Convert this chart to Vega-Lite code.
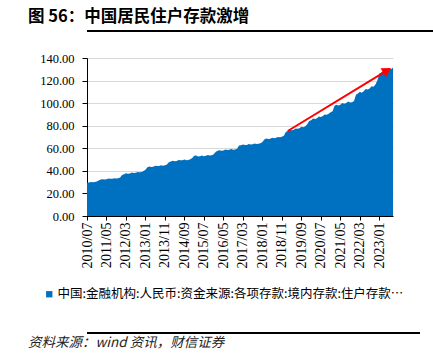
{
  "$schema": "https://vega.github.io/schema/vega-lite/v6.json",
  "background": "white",
  "padding": {"left": 18, "top": 8, "right": 0, "bottom": 0},
  "title": {"text": "图 56：中国居民住户存款激增", "anchor": "start", "frame": "bounds", "dx": 10, "offset": 5, "font": "Noto Sans CJK SC", "fontSize": 16.5, "fontWeight": "bold", "color": "#000"},
  "align": "none",
  "spacing": 6,
  "resolve": {"scale": {"color": "independent"}, "legend": {"color": "independent"}},
  "config": {
    "view": {"stroke": null}
  },
  "datasets": {
    "deposits": [
      {"d": "2010/07", "v": 29.4}, {"d": "2010/08", "v": 29.7}, {"d": "2010/09", "v": 30.1}, {"d": "2010/10", "v": 29.9}, {"d": "2010/11", "v": 30.1}, {"d": "2010/12", "v": 30.6},
      {"d": "2011/01", "v": 31.5}, {"d": "2011/02", "v": 32.3}, {"d": "2011/03", "v": 32.6}, {"d": "2011/04", "v": 32.3}, {"d": "2011/05", "v": 32.5}, {"d": "2011/06", "v": 33.2}, {"d": "2011/07", "v": 33.0}, {"d": "2011/08", "v": 33.1}, {"d": "2011/09", "v": 33.5}, {"d": "2011/10", "v": 33.2}, {"d": "2011/11", "v": 33.5}, {"d": "2011/12", "v": 34.2},
      {"d": "2012/01", "v": 36.4}, {"d": "2012/02", "v": 37.0}, {"d": "2012/03", "v": 37.8}, {"d": "2012/04", "v": 37.4}, {"d": "2012/05", "v": 37.6}, {"d": "2012/06", "v": 38.5}, {"d": "2012/07", "v": 38.2}, {"d": "2012/08", "v": 38.4}, {"d": "2012/09", "v": 39.0}, {"d": "2012/10", "v": 38.7}, {"d": "2012/11", "v": 39.0}, {"d": "2012/12", "v": 39.8},
      {"d": "2013/01", "v": 41.0}, {"d": "2013/02", "v": 43.2}, {"d": "2013/03", "v": 43.9}, {"d": "2013/04", "v": 43.5}, {"d": "2013/05", "v": 43.7}, {"d": "2013/06", "v": 44.6}, {"d": "2013/07", "v": 44.2}, {"d": "2013/08", "v": 44.4}, {"d": "2013/09", "v": 45.0}, {"d": "2013/10", "v": 44.6}, {"d": "2013/11", "v": 44.9}, {"d": "2013/12", "v": 45.6},
      {"d": "2014/01", "v": 47.6}, {"d": "2014/02", "v": 48.3}, {"d": "2014/03", "v": 49.0}, {"d": "2014/04", "v": 48.6}, {"d": "2014/05", "v": 48.7}, {"d": "2014/06", "v": 49.6}, {"d": "2014/07", "v": 49.3}, {"d": "2014/08", "v": 49.4}, {"d": "2014/09", "v": 50.0}, {"d": "2014/10", "v": 49.5}, {"d": "2014/11", "v": 49.7}, {"d": "2014/12", "v": 50.3},
      {"d": "2015/01", "v": 51.5}, {"d": "2015/02", "v": 53.3}, {"d": "2015/03", "v": 53.6}, {"d": "2015/04", "v": 52.7}, {"d": "2015/05", "v": 52.9}, {"d": "2015/06", "v": 53.6}, {"d": "2015/07", "v": 53.0}, {"d": "2015/08", "v": 53.3}, {"d": "2015/09", "v": 54.0}, {"d": "2015/10", "v": 53.5}, {"d": "2015/11", "v": 53.9}, {"d": "2015/12", "v": 54.8},
      {"d": "2016/01", "v": 56.8}, {"d": "2016/02", "v": 57.8}, {"d": "2016/03", "v": 58.3}, {"d": "2016/04", "v": 57.9}, {"d": "2016/05", "v": 58.1}, {"d": "2016/06", "v": 58.9}, {"d": "2016/07", "v": 58.5}, {"d": "2016/08", "v": 58.7}, {"d": "2016/09", "v": 59.3}, {"d": "2016/10", "v": 58.8}, {"d": "2016/11", "v": 58.9}, {"d": "2016/12", "v": 59.5},
      {"d": "2017/01", "v": 62.4}, {"d": "2017/02", "v": 62.8}, {"d": "2017/03", "v": 63.4}, {"d": "2017/04", "v": 62.9}, {"d": "2017/05", "v": 63.0}, {"d": "2017/06", "v": 63.8}, {"d": "2017/07", "v": 63.3}, {"d": "2017/08", "v": 63.5}, {"d": "2017/09", "v": 64.2}, {"d": "2017/10", "v": 63.7}, {"d": "2017/11", "v": 64.0}, {"d": "2017/12", "v": 64.5},
      {"d": "2018/01", "v": 65.6}, {"d": "2018/02", "v": 67.8}, {"d": "2018/03", "v": 68.6}, {"d": "2018/04", "v": 68.2}, {"d": "2018/05", "v": 68.4}, {"d": "2018/06", "v": 69.4}, {"d": "2018/07", "v": 69.0}, {"d": "2018/08", "v": 69.3}, {"d": "2018/09", "v": 70.1}, {"d": "2018/10", "v": 69.8}, {"d": "2018/11", "v": 70.2}, {"d": "2018/12", "v": 71.2},
      {"d": "2019/01", "v": 74.4}, {"d": "2019/02", "v": 75.3}, {"d": "2019/03", "v": 76.4}, {"d": "2019/04", "v": 75.9}, {"d": "2019/05", "v": 76.2}, {"d": "2019/06", "v": 77.5}, {"d": "2019/07", "v": 77.3}, {"d": "2019/08", "v": 77.8}, {"d": "2019/09", "v": 79.0}, {"d": "2019/10", "v": 78.7}, {"d": "2019/11", "v": 79.5}, {"d": "2019/12", "v": 81.3},
      {"d": "2020/01", "v": 84.1}, {"d": "2020/02", "v": 84.8}, {"d": "2020/03", "v": 86.3}, {"d": "2020/04", "v": 85.9}, {"d": "2020/05", "v": 86.6}, {"d": "2020/06", "v": 88.1}, {"d": "2020/07", "v": 87.7}, {"d": "2020/08", "v": 88.5}, {"d": "2020/09", "v": 90.0}, {"d": "2020/10", "v": 89.7}, {"d": "2020/11", "v": 90.6}, {"d": "2020/12", "v": 92.0},
      {"d": "2021/01", "v": 92.8}, {"d": "2021/02", "v": 97.6}, {"d": "2021/03", "v": 98.6}, {"d": "2021/04", "v": 97.9}, {"d": "2021/05", "v": 98.6}, {"d": "2021/06", "v": 100.2}, {"d": "2021/07", "v": 99.5}, {"d": "2021/08", "v": 100.1}, {"d": "2021/09", "v": 101.5}, {"d": "2021/10", "v": 100.5}, {"d": "2021/11", "v": 100.8}, {"d": "2021/12", "v": 101.8},
      {"d": "2022/01", "v": 107.5}, {"d": "2022/02", "v": 108.5}, {"d": "2022/03", "v": 110.0}, {"d": "2022/04", "v": 109.3}, {"d": "2022/05", "v": 110.5}, {"d": "2022/06", "v": 112.5}, {"d": "2022/07", "v": 112.0}, {"d": "2022/08", "v": 113.0}, {"d": "2022/09", "v": 115.0}, {"d": "2022/10", "v": 114.5}, {"d": "2022/11", "v": 116.5}, {"d": "2022/12", "v": 120.3},
      {"d": "2023/01", "v": 126.2}, {"d": "2023/02", "v": 127.1}, {"d": "2023/03", "v": 128.6}, {"d": "2023/04", "v": 127.8}, {"d": "2023/05", "v": 128.6}, {"d": "2023/06", "v": 130.4}, {"d": "2023/07", "v": 130.0}, {"d": "2023/08", "v": 131.6}
    ],
    "arrowLine": [
      {"d": "2019/02", "v": 75.3},
      {"d": "2023/05", "v": 129.0}
    ],
    "arrowHead": [
      {"d": "2023/05", "v": 129.0}
    ]
  },
  "vconcat": [
    {
      "align": "none",
      "spacing": 20,
      "resolve": {"scale": {"color": "independent"}, "legend": {"color": "independent"}},
      "vconcat": [
        {
          "width": 402,
          "height": 2,
          "view": {"fill": "#000", "stroke": null},
          "layer": [
            {
              "data": {"values": [{"line": "rule"}]},
              "mark": {"type": "rect", "color": "#000"},
              "encoding": {}
            },
            {
              "data": {"values": [{"t": "x"}]},
              "mark": {"type": "square", "size": 0, "opacity": 0},
              "encoding": {}
            }
          ]
        },
        {
          "width": 306,
          "height": 158,
          "encoding": {
            "x": {"field": "d", "type": "ordinal", "scale": {"type": "point", "padding": 0},
              "axis": {"title": null, "values": ["2010/07","2011/05","2012/03","2013/01","2013/11","2014/09","2015/07","2016/05","2017/03","2018/01","2018/11","2019/09","2020/07","2021/05","2022/03","2023/01"],
                "labelAngle": -90, "labelFont": "Liberation Serif", "labelFontSize": 14, "labelColor": "#000", "tickColor": "#000", "domainColor": "#000", "tickSize": 4, "labelPadding": 2, "labelOverlap": false, "grid": false}},
            "y": {"field": "v", "type": "quantitative", "scale": {"domain": [0, 140], "nice": false},
              "axis": {"title": null, "values": [0,20,40,60,80,100,120,140], "format": ".2f", "labelFont": "Liberation Serif", "labelFontSize": 12.5, "labelColor": "#000", "tickColor": "#000", "domainColor": "#000", "tickSize": 5, "labelPadding": 8, "labelOverlap": false, "grid": true, "gridColor": "#d9d9d9", "gridWidth": 1}}
          },
          "layer": [
            {
              "data": {"name": "deposits"},
              "mark": {"type": "area", "opacity": 1},
              "encoding": {
                "color": {"datum": "中国:金融机构:人民币:资金来源:各项存款:境内存款:住户存款…", "type": "nominal", "scale": {"range": ["#0070C0"]},
                  "legend": {"orient": "none", "legendX": -69, "legendY": 205, "padding": 25, "fillColor": "rgba(255,255,255,0)", "title": null, "symbolType": "square", "symbolSize": 40, "symbolStrokeWidth": 0, "symbolOpacity": 1, "labelFont": "Noto Sans CJK SC", "labelFontSize": 12.5, "labelColor": "#000", "labelLimit": 0, "labelOffset": 2}}
              }
            },
            {
              "data": {"name": "arrowLine"},
              "mark": {"type": "line", "color": "#FF0000", "strokeWidth": 2}
            },
            {
              "data": {"name": "arrowHead"},
              "mark": {"type": "point", "shape": "triangle-right", "filled": true, "color": "#FF0000", "opacity": 1, "size": 110, "angle": 328.6}
            }
          ]
        }
      ]
    },
    {
      "title": {"text": "资料来源：wind 资讯，财信证券", "orient": "bottom", "anchor": "start", "frame": "group", "dx": -59, "offset": 2, "font": "Noto Sans CJK SC", "fontSize": 13.5, "fontStyle": "italic", "fontWeight": "normal", "color": "#222"},
      "width": 333,
      "height": 2,
      "layer": [
        {
          "data": {"values": [{"line": "rule"}]},
          "mark": {"type": "rect", "color": "#000"},
          "encoding": {}
        },
        {
          "data": {"values": [{"t": "x"}]},
          "mark": {"type": "square", "size": 0, "opacity": 0},
          "encoding": {}
        }
      ]
    }
  ]
}
